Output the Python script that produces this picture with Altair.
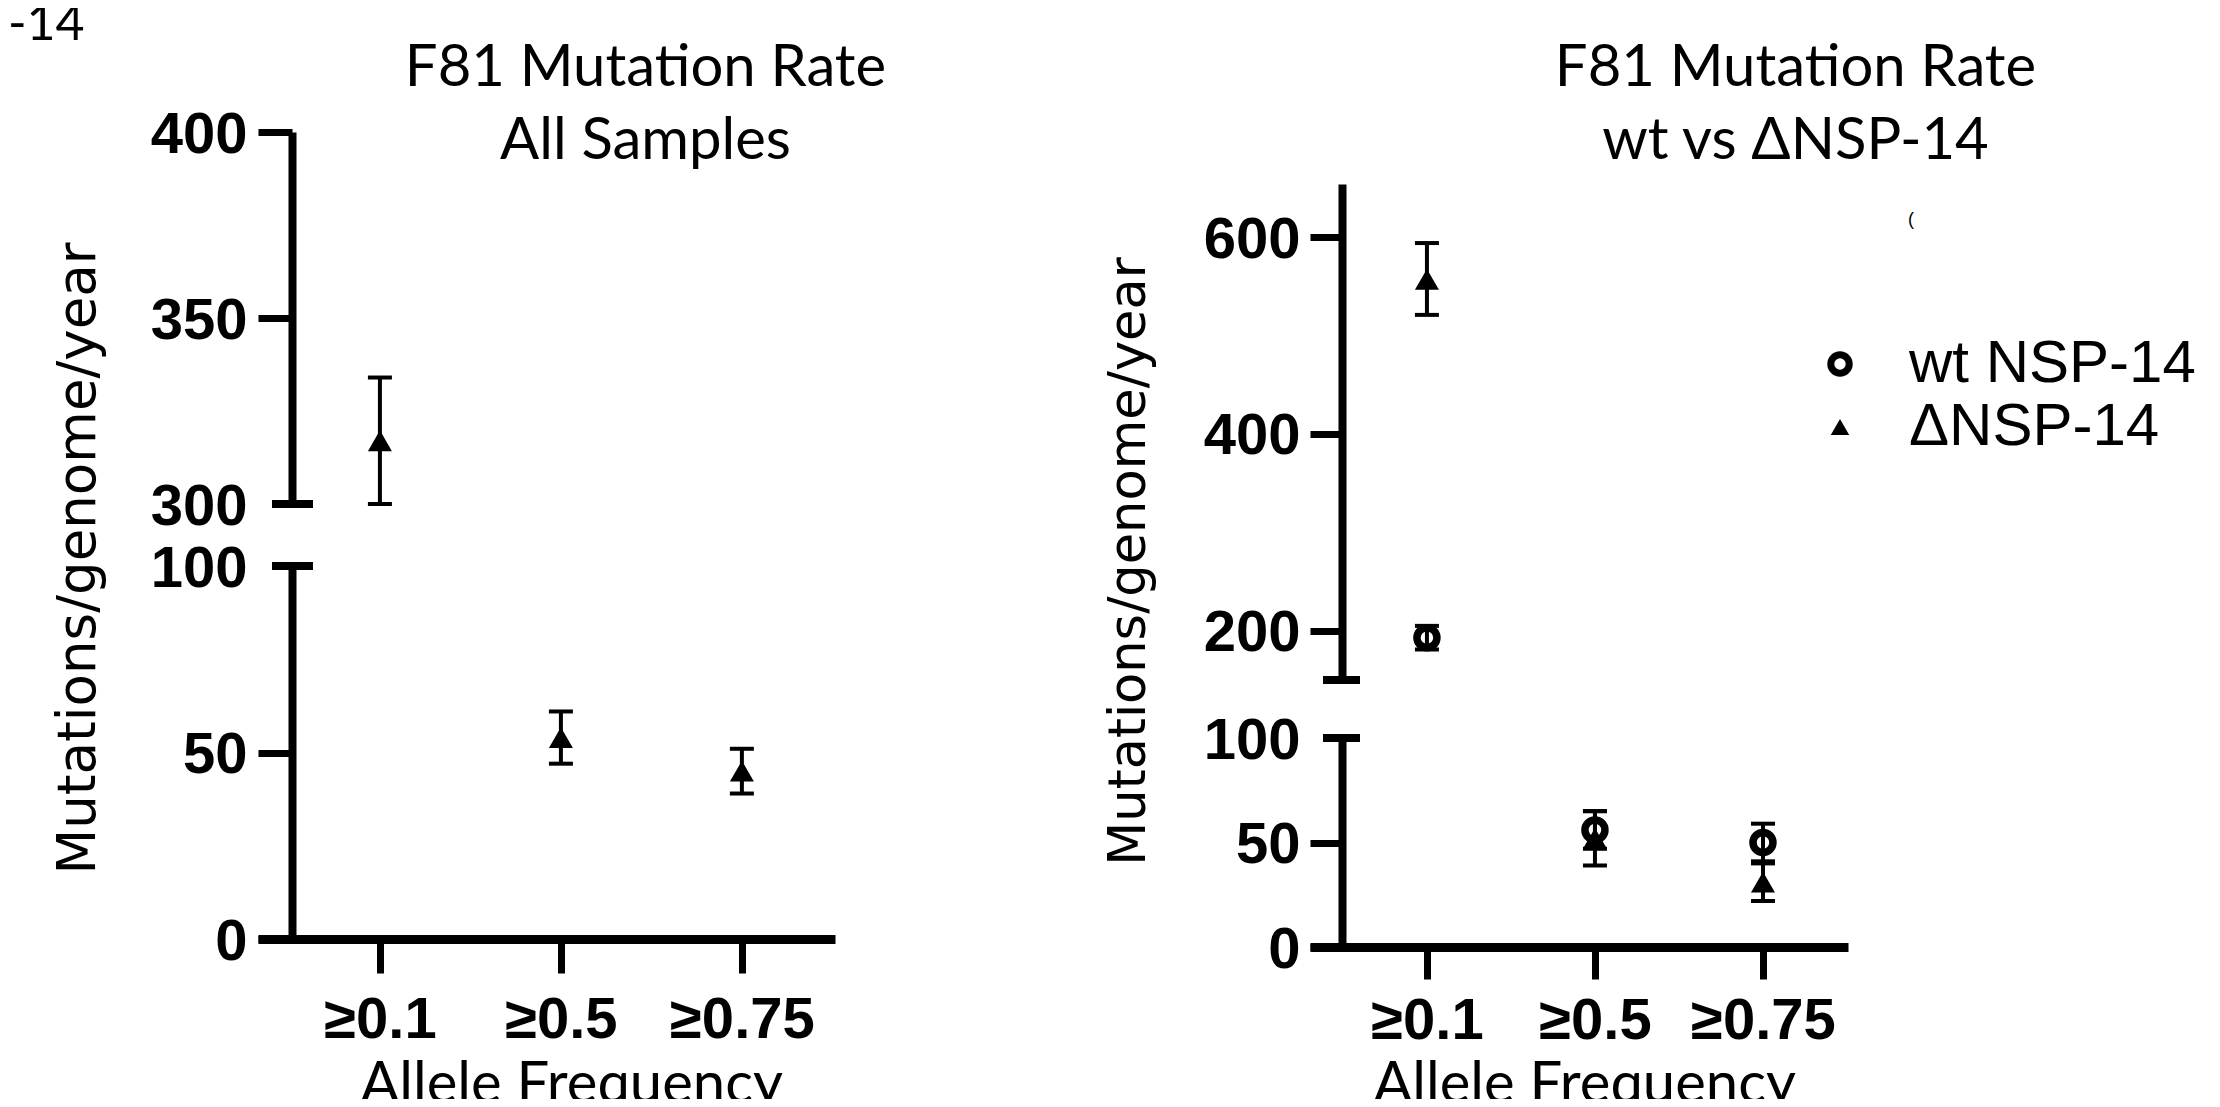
import altair as alt
import pandas as pd

# ---------------- data ----------------
categories = ["≥0.1", "≥0.5", "≥0.75"]

# left panel: all samples (ΔNSP-14 style triangles)
all_mean = [317, 54, 45]
all_low = [300, 47, 39]
all_high = [334, 61, 51]

# right panel
groups = ["wt NSP-14", "ΔNSP-14"]
wt_mean = [193, 56, 50]
wt_low = [181, 47, 41]
wt_high = [205, 65, 59]
dn_mean = [557, 52, 31]
dn_low = [521, 39, 22]
dn_high = [594, 65, 40]

left_title = ["F81 Mutation Rate", "All Samples"]
right_title = ["F81 Mutation Rate", "wt vs ΔNSP-14"]
x_title = "Allele Frequency"
y_title = "Mutations/genome/year"

left_upper_ticks = [300, 350, 400]
left_lower_ticks = [0, 50, 100]
right_upper_ticks = [200, 400, 600]
right_lower_ticks = [0, 50, 100]

left_df = pd.DataFrame({"freq": categories, "mean": all_mean, "low": all_low, "high": all_high})
right_df = pd.concat([
    pd.DataFrame({"freq": categories, "group": groups[1], "mean": dn_mean, "low": dn_low, "high": dn_high}),
    pd.DataFrame({"freq": categories, "group": groups[0], "mean": wt_mean, "low": wt_low, "high": wt_high}),
], ignore_index=True)

TICK_FONT = "Liberation Sans"
TITLE_FONT = "Lato"
YT_FONT = "DejaVu Sans"

# ---------------- scales ----------------
lx_scale = alt.Scale(type="point", domain=categories, range=[250, 827], padding=0.594, align=0.567)
rx_scale = alt.Scale(type="point", domain=categories, range=[1302, 1840], padding=0.601, align=0.579)

lu_scale = alt.Scale(domain=[300, 400], range=[496, 124], zero=False, nice=False)
ll_scale = alt.Scale(domain=[0, 100], range=[931, 558], nice=False)
ru_scale = alt.Scale(domain=[150, 654], range=[672, 176], zero=False, nice=False)
rl_scale = alt.Scale(domain=[0, 100], range=[939, 730], nice=False)


def y_axis(values, offset, tick_size, label_pad, hide_value=None, title="", title_x=0, title_y=0, title_size=53):
    if hide_value is None:
        tick_op = 1
    else:
        tick_op = {"condition": {"test": f"datum.value == {hide_value}", "value": 0}, "value": 1}
    return alt.Axis(values=values, orient="left", offset=offset, grid=False, format="d",
                    domainColor="black", domainWidth=8, tickColor="black", tickWidth=7,
                    tickSize=tick_size, tickOpacity=tick_op, labelOverlap=False,
                    labelFont=TICK_FONT, labelFontSize=58, labelFontWeight="bold", labelColor="black",
                    labelPadding=label_pad, labelOffset=3,
                    title=title, titleFont=YT_FONT, titleFontSize=title_size, titleFontWeight="normal",
                    titleColor="black", titleX=title_x, titleY=title_y, titleAngle=270,
                    titleAlign="center", titleBaseline="middle")


def x_axis_bottom(offset, tick_size, label_pad, title_x, title_y):
    return alt.Axis(orient="bottom", offset=offset, grid=False, domainColor="black", domainWidth=9,
                    tickColor="black", tickWidth=7, tickSize=tick_size, labelAngle=0, labelOverlap=False,
                    labelFont=TICK_FONT, labelFontSize=58, labelFontWeight="bold", labelColor="black",
                    labelPadding=label_pad, title=x_title, titleFont=TITLE_FONT, titleFontSize=58,
                    titleFontWeight="normal", titleColor="black", titleX=title_x, titleY=title_y,
                    titleAlign="center", titleBaseline="alphabetic")


def x_axis_top(lines, title_x):
    return alt.Axis(orient="top", offset=0, domain=False, ticks=False, labels=False, grid=False,
                    title=lines, titleFont=TITLE_FONT, titleFontSize=58, titleFontWeight="normal",
                    titleColor="black", titleX=title_x, titleY=77, titleAlign="center",
                    titleBaseline="alphabetic", titleLineHeight=73)


legend = alt.Legend(title=None, orient="none", legendX=1802, legendY=326, padding=0,
                    labelFont=TICK_FONT, labelFontSize=60, labelColor="black", labelOffset=39,
                    labelLimit=600, symbolSize=340, symbolStrokeWidth=7, rowPadding=3)
shape_enc = alt.Shape("group:N", scale=alt.Scale(domain=groups, range=["circle", "triangle-up"]), legend=legend)
fill_enc = alt.Fill("group:N", scale=alt.Scale(domain=groups, range=["transparent", "black"]), legend=legend)
stroke_enc = alt.Stroke("group:N", scale=alt.Scale(domain=groups, range=["black", "transparent"]), legend=legend)


def left_points(base, X, Y):
    return [base.mark_point(shape="triangle-up", filled=True, color="black", size=576, opacity=1)
            .encode(x=X, y=Y("mean"))]


def right_points(base, X, Y):
    out = []
    for g, sz in [(groups[1], 576), (groups[0], 400)]:
        out.append(base.transform_filter(alt.datum.group == g)
                   .mark_point(strokeWidth=7.5, size=sz, opacity=1)
                   .encode(x=X, y=Y("mean"), shape=shape_enc, fill=fill_enc, stroke=stroke_enc))
    return out


def segment(df, filt, xscale, xaxis, yscale, yaxis, cap_value, cap_x0, cap_x1, points):
    base = alt.Chart(df).transform_filter(filt)
    X = alt.X("freq:N", scale=xscale, axis=xaxis, sort=categories)

    def Y(field):
        return alt.Y(f"{field}:Q", scale=yscale, axis=yaxis)

    bar = base.mark_rule(color="black", strokeWidth=4).encode(x=X, y=Y("low"), y2="high:Q")
    lo = base.mark_tick(color="black", thickness=4, size=24, opacity=1).encode(x=X, y=Y("low"))
    hi = base.mark_tick(color="black", thickness=4, size=24, opacity=1).encode(x=X, y=Y("high"))
    cap = (alt.Chart(pd.DataFrame({"brk": [cap_value]}))
           .mark_rule(color="black", strokeWidth=8)
           .encode(x=alt.value(cap_x0), x2=alt.value(cap_x1), y=Y("brk")))
    return alt.layer(bar, lo, hi, *points(base, X, Y), cap)


upper = "datum.mean >= 150"
lower = "datum.mean < 150"

lu = segment(left_df, upper, lx_scale, x_axis_top(left_title, 637), lu_scale,
             y_axis(left_upper_ticks, -284, 34, 11, hide_value=300), 300, 264, 305, left_points)
ll = segment(left_df, lower, lx_scale, x_axis_bottom(-160, 34, 18, 563, 163), ll_scale,
             y_axis(left_lower_ticks, -284, 34, 11, hide_value=100, title=y_title, title_x=-214, title_y=550),
             100, 264, 305, left_points)
ru = segment(right_df, upper, rx_scale, x_axis_top(right_title, 1787), ru_scale,
             y_axis(right_upper_ticks, -1334, 32, 10), 150, 1315, 1352, right_points)
rl = segment(right_df, lower, rx_scale, x_axis_bottom(-152, 32, 13, 1576, 155), rl_scale,
             y_axis(right_lower_ticks, -1334, 32, 10, hide_value=100, title=y_title, title_x=-213,
                    title_y=553, title_size=51),
             100, 1315, 1352, right_points)

corner = (alt.Chart(pd.DataFrame({"t": ["-14"]}))
          .mark_text(align="left", baseline="alphabetic", font=TITLE_FONT, fontSize=50, color="black")
          .encode(text="t:N", x=alt.value(0), y=alt.value(32)))
speck = (alt.Chart(pd.DataFrame({"t": ["("]}))
         .mark_text(align="center", baseline="alphabetic", font=TICK_FONT, fontSize=18, color="black")
         .encode(text="t:N", x=alt.value(1903), y=alt.value(217)))

chart = (alt.layer(lu, ll, ru, rl, corner, speck)
         .resolve_scale(x="independent", y="independent")
         .resolve_axis(x="independent", y="independent")
         .properties(width=2204, height=1091, autosize=alt.AutoSizeParams(type="none"), padding=0,
                     background="white")
         .configure_view(stroke="transparent"))

chart.save("out.html", embed_options={"renderer": "svg", "actions": False})
